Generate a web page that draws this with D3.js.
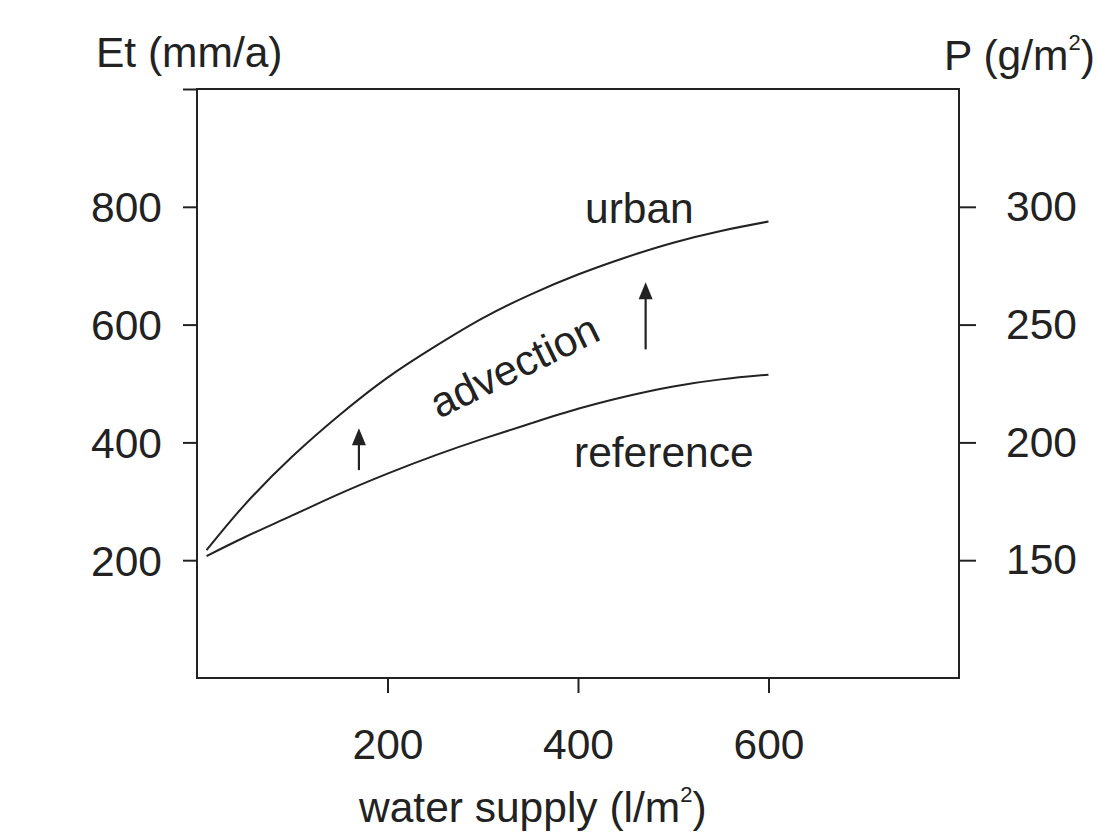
<!DOCTYPE html>
<html>
<head>
<meta charset="utf-8">
<script src="https://cdn.jsdelivr.net/npm/d3@7"></script>
<style>
  body { margin: 0; background: #fff; }
  svg text { font-family: "Liberation Sans", Arial, sans-serif; fill: #222; }
</style>
</head>
<body>
<svg width="1097" height="834"></svg>
<script>
// water supply (l/m2) sample points
const supply = [10, 50, 100, 150, 200, 250, 300, 350, 400, 450, 500, 550, 600];
// Et (mm/a)
const urban = [217, 294, 376, 447, 510, 563, 611, 651, 685, 714, 739, 759, 775];
const reference = [207, 239, 276, 313, 347, 378, 406, 432, 457, 478, 495, 507, 515];

const xTicks = [200, 400, 600];
const leftTicks = [200, 400, 600, 800, 1000];
const rightTicks = [150, 200, 250, 300];

// arrows: [supply, from Et, to Et]
const arrows = [
    [170, 353, 424],
    [471, 558, 672],
];

const svg = d3.select('svg');
const ink = '#222';
const fs = 42.5;

const x = d3.scaleLinear().domain([0, 800]).range([197, 959]);
const y = d3.scaleLinear().domain([0, 1000]).range([678, 89]);
const yP = d3.scaleLinear().domain([100, 350]).range([678, 89]);

// frame
svg.append('rect')
    .attr('x', x(0)).attr('y', y(1000))
    .attr('width', x(800) - x(0)).attr('height', y(0) - y(1000))
    .attr('fill', 'none').attr('stroke', ink).attr('stroke-width', 2);

function styleAxis(g) {
    g.select('.domain').remove();
    g.selectAll('line').attr('stroke', ink).attr('stroke-width', 2);
    g.selectAll('text').attr('font-size', fs).attr('fill', ink)
        .style('font-family', '"Liberation Sans", Arial, sans-serif');
}

svg.append('g')
    .attr('transform', `translate(${x(0)},0)`)
    .call(d3.axisLeft(y).tickValues(leftTicks).tickSize(14).tickPadding(21)
        .tickFormat((d) => (d === 1000 ? '' : d)))
    .call(styleAxis)
    .selectAll('text').attr('dy', '0.35em');

svg.append('g')
    .attr('transform', `translate(${x(800)},0)`)
    .call(d3.axisRight(yP).tickValues(rightTicks).tickSize(17).tickPadding(30))
    .call(styleAxis)
    .selectAll('text').attr('dy', '0.32em');

svg.append('g')
    .attr('transform', `translate(0,${y(0)})`)
    .call(d3.axisBottom(x).tickValues(xTicks).tickSize(15).tickPadding(36))
    .call(styleAxis)
    .selectAll('text').attr('dy', '0.71em');

// curves
const line = d3.line()
    .x((d, i) => x(supply[i]))
    .y((d) => y(d))
    .curve(d3.curveNatural);

[urban, reference].forEach((s) => {
    svg.append('path')
        .attr('d', line(s))
        .attr('fill', 'none')
        .attr('stroke', ink)
        .attr('stroke-width', 2);
});

// arrows
arrows.forEach(([s, from, to]) => {
    const ax = x(s);
    svg.append('line')
        .attr('x1', ax).attr('x2', ax)
        .attr('y1', y(from)).attr('y2', y(to) + 12)
        .attr('stroke', ink).attr('stroke-width', 2.2);
    svg.append('path')
        .attr('d', `M${ax},${y(to)} L${ax - 7},${y(to) + 17} L${ax + 7},${y(to) + 17} Z`)
        .attr('fill', ink);
});

// labels
svg.append('text').attr('x', 585).attr('y', 223).attr('font-size', fs).text('urban');
svg.append('text').attr('x', 574).attr('y', 467).attr('font-size', fs).text('reference');
svg.append('text')
    .attr('transform', 'translate(439,419) rotate(-26)')
    .attr('font-size', fs).text('advection');

svg.append('text').attr('x', 96).attr('y', 67).attr('font-size', fs).text('Et (mm/a)');

const pLab = svg.append('text').attr('x', 944).attr('y', 70).attr('font-size', fs);
pLab.append('tspan').text('P (g/m');
pLab.append('tspan').attr('font-size', 22).attr('dy', -20).text('2');
pLab.append('tspan').attr('dy', 20).text(')');

const xLab = svg.append('text').attr('x', 359).attr('y', 822).attr('font-size', fs);
xLab.append('tspan').text('water supply (l/m');
xLab.append('tspan').attr('font-size', 22).attr('dy', -20).text('2');
xLab.append('tspan').attr('dy', 20).text(')');
</script>
</body>
</html>
